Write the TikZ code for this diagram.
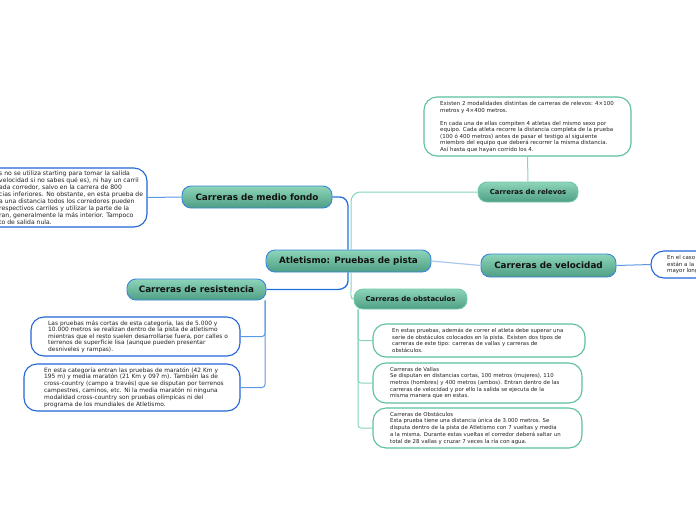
\documentclass[tikz,border=0pt]{standalone}
\usepackage{fontspec}
\setmainfont{DejaVu Sans}
\definecolor{nodetop}{HTML}{8DD5B9}
\definecolor{nodebot}{HTML}{4E9F84}
\definecolor{nblue}{HTML}{3A84DC}
\definecolor{nteal}{HTML}{72C8A9}
\definecolor{mainblue}{HTML}{2470DA}
\definecolor{branchblue}{HTML}{5A98E6}
\definecolor{lightblue}{HTML}{A8C8F0}
\definecolor{tealline}{HTML}{86D4BC}
\definecolor{boxblue}{HTML}{2266D8}
\definecolor{boxteal}{HTML}{5CC0A0}
\definecolor{bodytext}{HTML}{222222}
\definecolor{titletext}{HTML}{121212}
\tikzset{
  topic/.style={rectangle, rounded corners=9pt, top color=nodetop, bottom color=nodebot,
    line width=0.9pt, inner sep=0pt, text=titletext},
  bigtitle/.style={font=\fontsize{8.8}{10}\selectfont\bfseries},
  smalltitle/.style={font=\fontsize{6.9}{8}\selectfont\bfseries},
  tbox/.style={rectangle, rounded corners=13pt, line width=1.1pt, fill=white, inner sep=0pt},
  body/.style 2 args={font=\fontsize{#1}{#2}\selectfont, text=bodytext, align=left, inner sep=0pt, anchor=west},
  bline/.style={draw=mainblue, line width=1.3pt},
  brline/.style={draw=branchblue, line width=1pt, rounded corners=3pt},
  tline/.style={draw=tealline, line width=1pt},
}
\begin{document}
\begin{tikzpicture}[x=1pt,y=-1pt]
\path[use as bounding box] (0,0) rectangle (696,520);
\clip (0,0) rectangle (696,520);

% main topics
\node[topic, draw=nblue, bigtitle, minimum width=165pt, minimum height=22pt] (cen) at (348.5,261) {Atletismo: Pruebas de pista};
\node[topic, draw=nblue, bigtitle, minimum width=150pt, minimum height=22pt] (mf) at (257,197) {Carreras de medio fondo};
\node[topic, draw=nteal, smalltitle, minimum width=100pt, minimum height=20pt] (rel) at (528,192) {Carreras de relevos};
\node[topic, draw=nblue, bigtitle, minimum width=135pt, minimum height=23pt] (vel) at (548.5,265.5) {Carreras de velocidad};
\node[topic, draw=nblue, bigtitle, minimum width=139pt, minimum height=21pt] (res) at (196.5,289.5) {Carreras de resistencia};
\node[topic, draw=nteal, smalltitle, minimum width=113pt, minimum height=20pt] (obs) at (410.5,299) {Carreras de obstaculos};

% text boxes
\node[tbox, draw=boxblue, minimum width=187pt, minimum height=59pt] (lbox) at (53.5,197.5) {};
\node[body={6.1}{7}] (lboxt) at (-1,197.5) {s no se utiliza starting para tomar la salida\\
 velocidad si no sabes qué es), ni hay un carril\\
ada corredor, salvo en la carrera de 800\\
cias inferiores. No obstante, en esta prueba de\\
a una distancia todos los corredores pueden\\
respectivos carriles y utilizar la parte de la\\
ran, generalmente la más interior. Tampoco\\
to de salida nula.};

\node[tbox, draw=boxteal, minimum width=207pt, minimum height=59pt] (relbox) at (527.5,126.5) {};
\node[body={5.5}{6.6}] (relboxt) at (440,127) {Existen 2 modalidades distintas de carreras de relevos: 4×100\\
metros y 4×400 metros.\\[6.5pt]
En cada una de ellas compiten 4 atletas del mismo sexo por\\
equipo. Cada atleta recorre la distancia completa de la prueba\\
(100 ó 400 metros) antes de pasar el testigo al siguiente\\
miembro del equipo que deberá recorrer la misma distancia.\\
Así hasta que hayan corrido los 4.};

\node[tbox, draw=boxblue, minimum width=119pt, minimum height=27pt] (vbox) at (710.5,264.5) {};
\node[body={5.5}{6.5}] (vboxt) at (667,264.5) {En el caso\\están a la\\mayor long};

\node[tbox, draw=boxblue, minimum width=209pt, minimum height=39pt] (rb1) at (135.5,336.5) {};
\node[body={5.9}{6.4}] (rb1t) at (48,336.5) {Las pruebas más cortas de esta categoría, las de 5.000 y\\
10.000 metros se realizan dentro de la pista de atletismo\\
mientras que el resto suelen desarrollarse fuera, por calles o\\
terrenos de superficie lisa (aunque pueden presentar\\
desniveles y rampas).};

\node[tbox, draw=boxblue, minimum width=216pt, minimum height=47pt] (rb2) at (132,387.5) {};
\node[body={5.9}{6.9}] (rb2t) at (44,387.5) {En esta categoría entran las pruebas de maratón (42 Km y\\
195 m) y media maratón (21 Km y 097 m). También las de\\
cross-country (campo a través) que se disputan por terrenos\\
campestres, caminos, etc. Ni la media maratón ni ninguna\\
modalidad cross-country son pruebas olímpicas ni del\\
programa de los mundiales de Atletismo.};

\node[tbox, draw=boxteal, minimum width=212pt, minimum height=33pt] (ob1) at (479,340.5) {};
\node[body={5.4}{6.5}] (ob1t) at (392,340.5) {En estas pruebas, además de correr el atleta debe superar una\\
serie de obstáculos colocados en la pista. Existen dos tipos de\\
carreras de este tipo: carreras de vallas y carreras de\\
obstáculos.};

\node[tbox, draw=boxteal, minimum width=209pt, minimum height=40pt] (ob2) at (477.5,383) {};
\node[body={5.4}{6.7}] (ob2t) at (390,383) {Carreras de Vallas\\
Se disputan en distancias cortas, 100 metros (mujeres), 110\\
metros (hombres) y 400 metros (ambos). Entran dentro de las\\
carreras de velocidad y por ello la salida se ejecuta de la\\
misma manera que en estas.};

\node[tbox, draw=boxteal, minimum width=209pt, minimum height=40pt] (ob3) at (477.5,428) {};
\node[body={5.4}{6.7}] (ob3t) at (390,428) {Carreras de Obstáculos\\
Esta prueba tiene una distancia única de 3.000 metros. Se\\
disputa dentro de la pista de Atletismo con 7 vueltas y media\\
a la misma. Durante estas vueltas el corredor deberá saltar un\\
total de 28 vallas y cruzar 7 veces la ría con agua.};

% connectors
\draw[bline] (mf.east) -- (340,197) to[out=0,in=90] (348,206) -- (cen.north -| 348,0);
\draw[bline] (res.east) -- (338,289.5) to[out=0,in=-90] (348,281) -- (cen.south -| 348,0);
\draw[tline] (rel.west) -- (360,192) to[out=180,in=90] (351,202) -- (cen.north -| 351,0);
\draw[tline] (cen.south -| 351,0) -- (351,291) to[out=-90,in=180] (obs.west);
\draw[draw=lightblue, line width=1.2pt] (cen.east) -- (vel.west);
\draw[tline] (rel.north) -- (relbox.south);
\draw[draw=branchblue, line width=1pt] (mf.west) -- (lbox.east);
\draw[draw=branchblue, line width=1pt] (vel.east) -- (vbox.west);
\draw[brline] (res.south -| 265,0) |- (rb1.east);
\draw[brline] (res.south -| 265,0) |- (rb2.east);
\draw[tline, rounded corners=3pt] (obs.south -| 358,0) |- (ob1.west);
\draw[tline, rounded corners=3pt] (obs.south -| 358,0) |- (ob2.west);
\draw[tline, rounded corners=3pt] (obs.south -| 358,0) |- (ob3.west);
\end{tikzpicture}
\end{document}
